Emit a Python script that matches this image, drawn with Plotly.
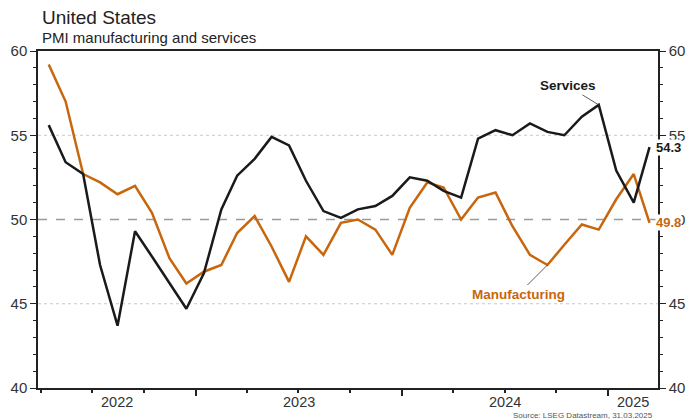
import plotly.graph_objects as go
import pandas as pd

months = pd.date_range("2022-04-01", periods=36, freq="MS") + pd.Timedelta(days=14)
dates = [d.strftime("%Y-%m-%d") for d in months]

manufacturing = [59.2, 57.0, 52.7, 52.2, 51.5, 52.0, 50.4, 47.7, 46.2,
                 46.9, 47.3, 49.2, 50.2, 48.4, 46.3, 49.0, 47.9, 49.8, 50.0, 49.4, 47.9,
                 50.7, 52.2, 51.9, 50.0, 51.3, 51.6, 49.6, 47.9, 47.3, 48.5, 49.7, 49.4,
                 51.2, 52.7, 49.8]
services = [55.6, 53.4, 52.7, 47.3, 43.7, 49.3, 47.8, 46.2, 44.7,
            46.8, 50.6, 52.6, 53.6, 54.9, 54.4, 52.3, 50.5, 50.1, 50.6, 50.8, 51.4,
            52.5, 52.3, 51.7, 51.3, 54.8, 55.3, 55.0, 55.7, 55.2, 55.0, 56.1, 56.8,
            52.9, 51.0, 54.3]

year_labels = ["2022", "2023", "2024", "2025"]
y_ticks = [40, 45, 50, 55, 60]
grid_levels = [45, 55]
ref_level = 50

X_START, X_END = "2022-03-27", "2025-03-30"
ORANGE = "#C8660E"
BLACK = "#1A1A1A"
FONT = "Liberation Sans, Arial, sans-serif"

fig = go.Figure()
fig.add_trace(go.Scatter(x=dates, y=manufacturing, mode="lines", name="Manufacturing",
                         line=dict(color=ORANGE, width=2.5), yaxis="y"))
fig.add_trace(go.Scatter(x=dates, y=services, mode="lines", name="Services",
                         line=dict(color=BLACK, width=2.5), yaxis="y2"))

# grid and 50 reference line
for g in grid_levels:
    fig.add_shape(type="line", xref="paper", x0=0, x1=1, yref="y", y0=g, y1=g,
                  line=dict(color="#C8C8C8", width=1, dash="dot"), layer="below")
fig.add_shape(type="line", xref="paper", x0=0, x1=1, yref="y", y0=ref_level, y1=ref_level,
              line=dict(color="#9A9A9A", width=1.5, dash="dash"), layer="below")

ann = []
# year labels centred on visible part of each year
start, end = pd.Timestamp(X_START), pd.Timestamp(X_END)
for yl in year_labels:
    a = max(start, pd.Timestamp(f"{yl}-01-01"))
    b = min(end, pd.Timestamp(f"{int(yl)+1}-01-01"))
    mid = a + (b - a) / 2
    ann.append(dict(x=mid.strftime("%Y-%m-%d"), xref="x", y=-0.043, yref="paper",
                    text=yl, showarrow=False, xanchor="center", yanchor="middle",
                    font=dict(size=14.5, color="#333333", family=FONT)))

# series labels
ann.append(dict(x=dates[32], y=services[32], xref="x", yref="y", text="<b>Services</b>",
                showarrow=True, arrowhead=0, arrowwidth=0.8, arrowcolor="#333333",
                ax=-31, ay=-19, standoff=0,
                font=dict(size=13.5, color=BLACK, family=FONT)))
ann.append(dict(x=dates[29], y=manufacturing[29], xref="x", yref="y", text="<b>Manufacturing</b>",
                showarrow=True, arrowhead=0, arrowwidth=0.8, arrowcolor="#333333",
                ax=-29, ay=29, standoff=0,
                font=dict(size=13.5, color=ORANGE, family=FONT)))
# end values
ann.append(dict(x=dates[-1], y=services[-1], xref="x", yref="y", text=f"<b>{services[-1]}</b>",
                showarrow=False, xanchor="left", yanchor="middle", xshift=5,
                bgcolor="white", borderpad=0,
                font=dict(size=13, color=BLACK, family=FONT)))
ann.append(dict(x=dates[-1], y=manufacturing[-1], xref="x", yref="y", text=f"<b>{manufacturing[-1]}</b>",
                showarrow=False, xanchor="left", yanchor="middle", xshift=5,
                bgcolor="white", borderpad=0,
                font=dict(size=13, color=ORANGE, family=FONT)))
# titles
ann.append(dict(x=0.003, y=1.098, xref="paper", yref="paper", text="United States",
                showarrow=False, xanchor="left", yanchor="middle",
                font=dict(size=19, color="#222222", family=FONT)))
ann.append(dict(x=0.004, y=1.04, xref="paper", yref="paper", text="PMI manufacturing and services",
                showarrow=False, xanchor="left", yanchor="middle",
                font=dict(size=15, color="#222222", family=FONT)))
ann.append(dict(x=0.995, y=-0.081, xref="paper", yref="paper",
                text="Source: LSEG Datastream, 31.03.2025",
                showarrow=False, xanchor="right", yanchor="middle",
                font=dict(size=8, color="#555555", family=FONT)))

yaxis_common = dict(range=[40, 60], tickvals=y_ticks, ticks="outside", ticklen=6, tickwidth=1.2,
                    tickcolor="#222222", showline=True, linecolor="#222222", linewidth=1.5,
                    tickfont=dict(size=15, color="#333333", family=FONT),
                    minor=dict(dtick=1, ticks="outside", ticklen=3, tickcolor="#222222", showgrid=False),
                    zeroline=False, fixedrange=True, automargin=False, showgrid=False)

fig.update_layout(
    width=687, height=419,
    margin=dict(l=38, r=29, t=51, b=31, autoexpand=False),
    paper_bgcolor="white", plot_bgcolor="white",
    showlegend=False,
    font=dict(family=FONT),
    xaxis=dict(range=[X_START, X_END], type="date",
               tickvals=[f"{y}-01-01" for y in ["2023", "2024", "2025"]],
               ticktext=["", "", ""], ticks="outside", ticklen=6, tickwidth=1.5, tickcolor="#222222",
               minor=dict(dtick="M3", tick0="2022-04-01", ticks="outside", ticklen=3,
                          tickcolor="#222222", showgrid=False),
               showgrid=False, showline=True, linecolor="#222222", linewidth=1.5, mirror=True,
               zeroline=False, automargin=False),
    yaxis=dict(side="left", **yaxis_common),
    yaxis2=dict(side="right", overlaying="y", **yaxis_common),
    annotations=ann,
)

fig.write_html("out.html", config={"displayModeBar": False},
               post_script="document.body.style.margin='0px';document.body.style.padding='0px';")
